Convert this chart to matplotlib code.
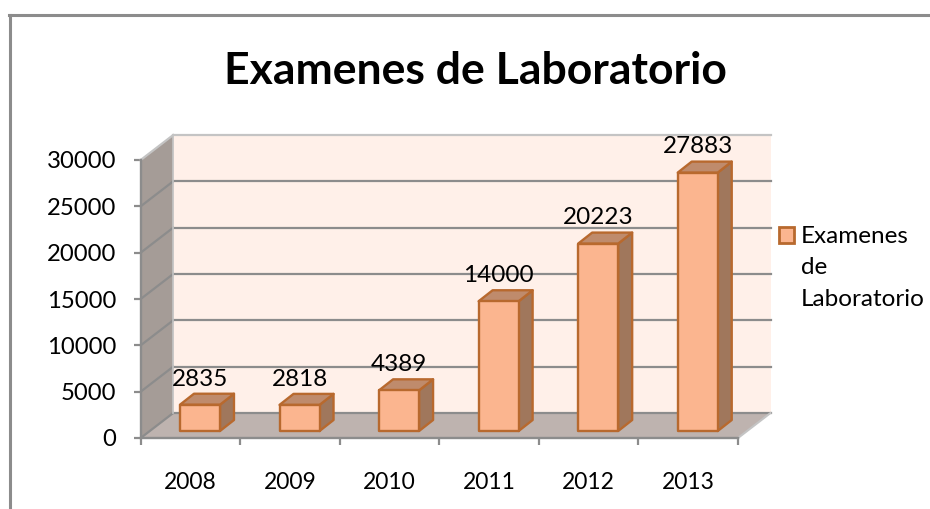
import matplotlib
matplotlib.use('Agg')
import matplotlib.pyplot as plt
from matplotlib.patches import Polygon, Rectangle
from matplotlib.lines import Line2D

years = ['2008', '2009', '2010', '2011', '2012', '2013']
values = [2835, 2818, 4389, 14000, 20223, 27883]
y_ticks = [0, 5000, 10000, 15000, 20000, 25000, 30000]
title = 'Examenes de Laboratorio'
legend_text = 'Examenes\nde\nLaboratorio'

W, H = 930, 509
GREY = '#8c8c8c'

plt.rcParams['font.family'] = ['Lato', 'DejaVu Sans']

fig = plt.figure(figsize=(W / 100, H / 100), dpi=100, facecolor='white')
# front edge of the floor runs 140.7..738 px, y 0..30000 is 438..160 px
ax = fig.add_axes([140.7 / W, (H - 438) / H, 597.3 / W, 278 / H])
ax.set_xlim(0, 6)
ax.set_ylim(0, 30000)
ax.patch.set_visible(False)

# depth of the box and of the bars, in data units
px_x = 6 / 597.3
px_y = 30000 / 278
dx, dy = 32.5 * px_x, 25 * px_y
bdx, bdy = 14 * px_x, 11 * px_y
bar_w = 40 * px_x
bar_shift = 9.5 * px_x
bar_base = 7 * px_y


def poly(points, face, edge='none', lw=0, z=1):
    ax.add_patch(Polygon(points, closed=True, facecolor=face, edgecolor=edge,
                         linewidth=lw, zorder=z, clip_on=False, joinstyle='round'))


# walls and floor
top = y_ticks[-1]
poly([(dx, dy), (6 + dx, dy), (6 + dx, top + dy), (dx, top + dy)], '#fff0e9', z=1)
poly([(0, 0), (dx, dy), (dx, top + dy), (0, top)], '#a59c97', z=2)
poly([(0, 0), (6, 0), (6 + dx, dy), (dx, dy)], '#beb3af', z=2)

# gridlines on the back wall and the side wall
for t in y_ticks:
    col = '#c4c4c4' if t == top else GREY
    ax.plot([dx, 6 + dx], [t + dy, t + dy], color=col, lw=1.6, zorder=3, clip_on=False)
    ax.plot([0, dx], [t, t + dy], color=col, lw=1.6, zorder=3, clip_on=False)
ax.plot([dx, dx], [dy, top + dy], color='#c4c4c4', lw=1.2, zorder=3, clip_on=False)
ax.plot([6, 6 + dx], [0, dy], color='#c4c4c4', lw=1.5, zorder=3, clip_on=False)

# bars
edge = '#b8692e'
for i, v in enumerate(values):
    x0 = i + 0.5 + bar_shift - bar_w / 2
    x1 = x0 + bar_w
    y0 = bar_base
    y1 = bar_base + v
    poly([(x1, y0), (x1 + bdx, y0 + bdy), (x1 + bdx, y1 + bdy), (x1, y1)], '#a0775c', edge, 1.7, 5)
    poly([(x0, y1), (x1, y1), (x1 + bdx, y1 + bdy), (x0 + bdx, y1 + bdy)], '#bf8b6c', edge, 1.7, 5)
    poly([(x0, y0), (x1, y0), (x1, y1), (x0, y1)], '#fbb58f', edge, 1.7, 6)
    ax.annotate(str(v), (i + 0.5 + bar_shift, y1), xytext=(0, 18.5), textcoords='offset points',
                ha='center', va='center', fontsize=17.5, color='black', zorder=8,
                annotation_clip=False)

# axes
for s in ['top', 'right']:
    ax.spines[s].set_visible(False)
for s in ['left', 'bottom']:
    ax.spines[s].set_color(GREY)
    ax.spines[s].set_linewidth(1.7)
    ax.spines[s].set_zorder(4)
ax.set_yticks(y_ticks)
ax.tick_params(axis='y', length=5, width=1.6, color=GREY, labelsize=17.2, pad=12.5)
ax.set_xticks(range(7))
ax.set_xticklabels([])
ax.set_xticks([i + 0.5 for i in range(6)], minor=True)
ax.set_xticklabels(years, minor=True)
ax.tick_params(axis='x', which='major', length=5, width=1.6, color=GREY)
ax.tick_params(axis='x', which='minor', length=0, labelsize=16.5, pad=24.5)

# title
fig.text(475 / W, 1 - 71 / H, title, ha='center', va='center', fontsize=32,
         fontweight='bold', color='black')

# legend
fig.add_artist(Rectangle((778.5 / W, 1 - 243 / H), 15.5 / W, 15.5 / H, transform=fig.transFigure,
                         facecolor='#fbb58f', edgecolor=edge, linewidth=2))
fig.text(801 / W, 1 - 268 / H, legend_text, ha='left', va='center', fontsize=17.5,
         linespacing=1.59, color='black')

# chart frame, only top and left fall inside the image
fig.add_artist(Line2D([10 / W, 10 / W], [0, 1 - 15 / H], color=GREY, lw=2.2))
fig.add_artist(Line2D([9.2 / W, 1], [1 - 15 / H, 1 - 15 / H], color=GREY, lw=2.2))

fig.savefig('out.png', dpi=100)
